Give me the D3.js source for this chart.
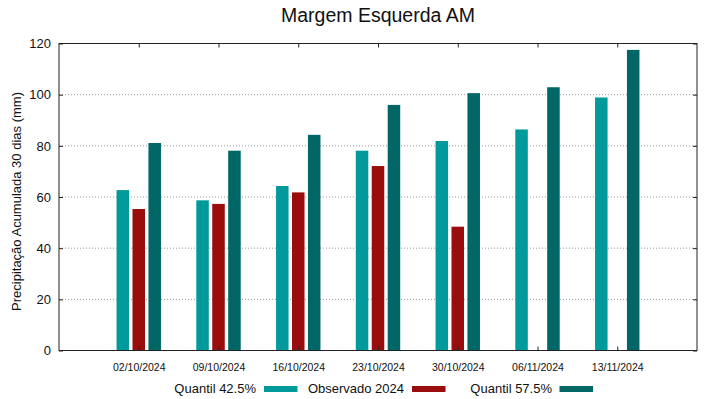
<!DOCTYPE html>
<html><head><meta charset="utf-8">
<script src="https://cdn.jsdelivr.net/npm/d3@7"></script>
<style>body{margin:0;background:#fff}svg{display:block;font-family:"Liberation Sans",Arial,sans-serif}</style>
</head><body>
<svg id="c" width="719" height="399"></svg>
<script>
const categories = ["02/10/2024","09/10/2024","16/10/2024","23/10/2024","30/10/2024","06/11/2024","13/11/2024"];
const q425 = [62.7, 58.7, 64.3, 78.1, 81.9, 86.4, 98.9];
const obs2024 = [55.3, 57.3, 61.8, 72.1, 48.4, null, null];
const q575 = [81.1, 78.1, 84.3, 96.0, 100.6, 102.9, 117.5];
const yTicks = [0, 20, 40, 60, 80, 100, 120];
const seriesNames = ["Quantil 42.5%", "Observado 2024", "Quantil 57.5%"];
const colors = ["#009a9a", "#9a0d0d", "#006666"];

const series = [q425, obs2024, q575];
const svg = d3.select("#c");
const L = 59, R = 697, T = 43.5, B = 350.5;
const x = d3.scaleLinear().domain([0, categories.length + 1]).range([L, R]);
const y = d3.scaleLinear().domain([0, 120]).range([B, T]);
const offsets = [-0.2, 0, 0.2];
const bw = 0.157;

// grid
svg.append("g").selectAll("line").data(yTicks.filter(d => d > 0 && d < 120)).join("line")
  .attr("x1", L).attr("x2", R).attr("y1", d => y(d)).attr("y2", d => y(d))
  .attr("stroke", "#999").attr("stroke-width", 1).attr("stroke-dasharray", "1,2");

// bars
series.forEach((s, si) => {
  svg.append("g").selectAll("rect").data(s.map((v, i) => ({v, i})).filter(d => d.v != null)).join("rect")
    .attr("x", d => x(d.i + 1 + offsets[si] - bw / 2))
    .attr("width", x(bw) - x(0))
    .attr("y", d => y(d.v))
    .attr("height", d => y(0) - y(d.v))
    .attr("fill", colors[si]);
});

// axes
const tickLen = 4;
const yl = svg.append("g").attr("transform", `translate(${L},0)`)
  .call(d3.axisLeft(y).tickValues(yTicks).tickSize(-tickLen).tickPadding(8));
const yr = svg.append("g").attr("transform", `translate(${R},0)`)
  .call(d3.axisRight(y).tickValues(yTicks).tickSize(-tickLen).tickFormat(""));
const xb = svg.append("g").attr("transform", `translate(0,${B})`)
  .call(d3.axisBottom(x).tickValues(d3.range(1, categories.length + 1)).tickSize(-tickLen)
    .tickFormat(d => categories[d - 1]));
const xt = svg.append("g").attr("transform", `translate(0,${T})`)
  .call(d3.axisTop(x).tickValues(d3.range(1, categories.length + 1)).tickSize(-tickLen).tickFormat(""));
[yl, yr, xb, xt].forEach(g => {
  g.select(".domain").remove();
  g.selectAll(".tick line").attr("stroke", "#222");
});
yl.selectAll("text").attr("font-size", 13).attr("fill", "#111").attr("font-family", "Liberation Sans, Arial, sans-serif");
xb.selectAll("text").attr("font-size", 10.5).attr("fill", "#111").attr("font-family", "Liberation Sans, Arial, sans-serif")
  .attr("y", 20.2).attr("dy", null);

svg.append("rect").attr("x", L).attr("y", T).attr("width", R - L).attr("height", B - T)
  .attr("fill", "none").attr("stroke", "#222").attr("stroke-width", 1);

// title
svg.append("text").attr("x", 378).attr("y", 22).attr("text-anchor", "middle")
  .attr("font-size", 19.5).attr("fill", "#111").text("Margem Esquerda AM");

// y label
svg.append("text").attr("transform", "translate(20.5,201.5) rotate(-90)").attr("text-anchor", "middle")
  .attr("font-size", 13).attr("fill", "#111").text("Precipitação Acumulada 30 dias (mm)");

// legend
const leg = [{tx: 256, sx: 264}, {tx: 404, sx: 412}, {tx: 552, sx: 559.5}];
leg.forEach((p, i) => {
  svg.append("text").attr("x", p.tx).attr("y", 392.5).attr("text-anchor", "end")
    .attr("font-size", 13).attr("fill", "#111").text(seriesNames[i]);
  svg.append("rect").attr("x", p.sx).attr("y", 386).attr("width", 33.5).attr("height", 6).attr("fill", colors[i]);
});
</script>
</body></html>
